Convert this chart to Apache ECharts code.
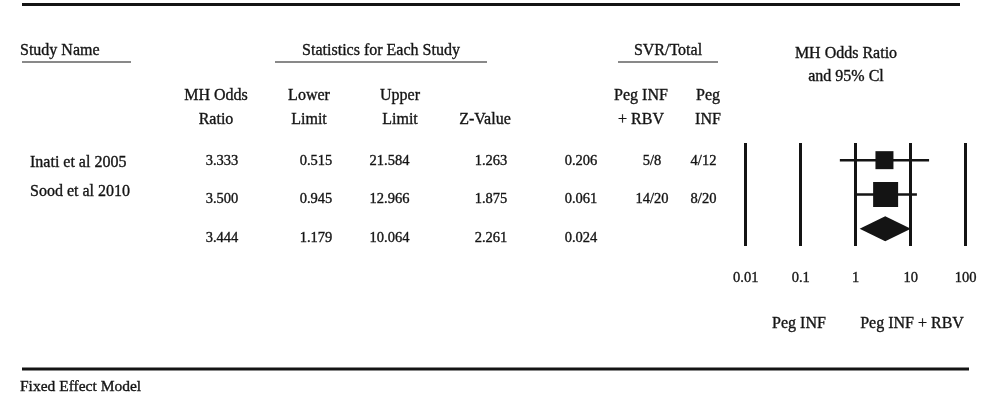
<!DOCTYPE html>
<html>
<head>
<meta charset="utf-8">
<title>Forest plot</title>
<script src="https://cdn.jsdelivr.net/npm/echarts/dist/echarts.min.js"></script>
<style>
  html, body { margin: 0; padding: 0; background: #fff; }
  #chart { width: 1000px; height: 396px; }
</style>
</head>
<body>
<div id="chart"></div>
<script>
// data
const studies = ['Inati et al 2005', 'Sood et al 2010']
const oddsRatio = [3.333, 3.500, 3.444]
const lowerLimit = [0.515, 0.945, 1.179]
const upperLimit = [21.584, 12.966, 10.064]
const zValue = [1.263, 1.875, 2.261]
const pValue = [0.206, 0.061, 0.024]
const svrPegRbv = ['5/8', '14/20']
const svrPeg = ['4/12', '8/20']
const tickLabels = ['0.01', '0.1', '1', '10', '100']
const rows = ['Inati et al 2005', 'Sood et al 2010', 'Fixed']

const INK = '#141414'
const FONT = 'Liberation Serif'

function txt(str, x, y, size, align) {
  return {
    type: 'text',
    x: x,
    y: y,
    style: {
      text: str,
      fill: INK,
      stroke: INK,
      lineWidth: 0.35,
      font: (size || 16) + 'px "' + FONT + '"',
      align: align || 'center',
      verticalAlign: 'middle'
    }
  }
}

function rule(x1, x2, y, w) {
  return {
    type: 'line',
    shape: { x1: x1, y1: y, x2: x2, y2: y },
    style: { stroke: INK, lineWidth: w || 1.2 }
  }
}

// table text
const graphics = [
  rule(22, 960, 4.5, 3),
  rule(22, 969, 369, 3),
  txt('Study Name', 20, 50.5, 16, 'left'),
  rule(22, 131, 62),
  txt('Statistics for Each Study', 381, 50.5),
  rule(275, 487, 62),
  txt('SVR/Total', 668, 50.5),
  rule(618, 718, 62),
  txt('MH Odds Ratio', 846, 53.5),
  txt('and 95% Cl', 846, 77),
  txt('MH Odds', 216, 96),
  txt('Ratio', 216, 119.5),
  txt('Lower', 309, 96),
  txt('Limit', 309, 119.5),
  txt('Upper', 400, 96),
  txt('Limit', 400, 119.5),
  txt('Z-Value', 485, 119.5),
  txt('Peg INF', 641, 96),
  txt('+ RBV', 641, 119.5),
  txt('Peg', 708, 96),
  txt('INF', 708, 119.5),
  txt('Peg INF', 799, 323.5),
  txt('Peg INF + RBV', 912, 323.5),
  txt('Fixed Effect Model', 20, 386.5, 15.5, 'left')
]

const nameY = [162.5, 192]
const valueY = [161, 199, 238]
studies.forEach((s, i) => graphics.push(txt(s, 30, nameY[i], 16, 'left')))
oddsRatio.forEach((v, i) => {
  const y = valueY[i]
  graphics.push(txt(v.toFixed(3), 222, y, 14.5))
  graphics.push(txt(lowerLimit[i].toFixed(3), 316, y, 14.5))
  graphics.push(txt(upperLimit[i].toFixed(3), 389.5, y, 14.5))
  graphics.push(txt(zValue[i].toFixed(3), 491, y, 14.5))
  graphics.push(txt(pValue[i].toFixed(3), 581, y, 14.5))
})
svrPegRbv.forEach((v, i) => graphics.push(txt(v, 652, valueY[i], 14.5)))
svrPeg.forEach((v, i) => graphics.push(txt(v, 703.5, valueY[i], 14.5)))

const ciData = studies.map((s, i) => [lowerLimit[i], upperLimit[i], i])
const squareSize = [18, 25]
const squareData = studies.map((s, i) => ({ value: [oddsRatio[i], i], symbolSize: squareSize[i] }))
const k = oddsRatio.length - 1
const diamondData = [[oddsRatio[k], lowerLimit[k], upperLimit[k], k]]

const chart = echarts.init(document.getElementById('chart'), null, { renderer: 'canvas' })
chart.setOption({
  animation: false,
  backgroundColor: '#fff',
  grid: { left: 745.7, right: 34.3, top: 143, bottom: 150 },
  xAxis: {
    type: 'log',
    logBase: 10,
    min: 0.01,
    max: 100,
    axisLine: { show: false },
    axisTick: { show: false },
    splitLine: { show: true, lineStyle: { color: INK, width: 3 } },
    axisLabel: {
      margin: 25,
      color: INK,
      textBorderColor: INK,
      textBorderWidth: 0.35,
      fontFamily: FONT,
      fontSize: 14.5,
      formatter: v => tickLabels[Math.round(Math.log10(v)) + 2]
    }
  },
  yAxis: {
    type: 'category',
    data: rows,
    inverse: true,
    show: false
  },
  series: [
    {
      type: 'custom',
      data: ciData,
      encode: { x: [0, 1], y: 2 },
      renderItem: (params, api) => {
        const a = api.coord([api.value(0), api.value(2)])
        const b = api.coord([api.value(1), api.value(2)])
        return {
          type: 'line',
          shape: { x1: a[0], y1: a[1], x2: b[0], y2: b[1] },
          style: { stroke: INK, lineWidth: 2.5 }
        }
      },
      z: 3
    },
    {
      type: 'scatter',
      symbol: 'rect',
      data: squareData,
      itemStyle: { color: INK, opacity: 1 },
      z: 4
    },
    {
      type: 'custom',
      data: diamondData,
      encode: { x: [0, 1, 2], y: 3 },
      renderItem: (params, api) => {
        const row = api.value(3)
        const c = api.coord([api.value(0), row])
        const l = api.coord([api.value(1), row])
        const r = api.coord([api.value(2), row])
        const h = 12.5
        return {
          type: 'polygon',
          shape: { points: [[l[0], c[1]], [c[0], c[1] - h], [r[0], c[1]], [c[0], c[1] + h]] },
          style: { fill: INK }
        }
      },
      z: 4
    }
  ],
  graphic: graphics
})
</script>
</body>
</html>
